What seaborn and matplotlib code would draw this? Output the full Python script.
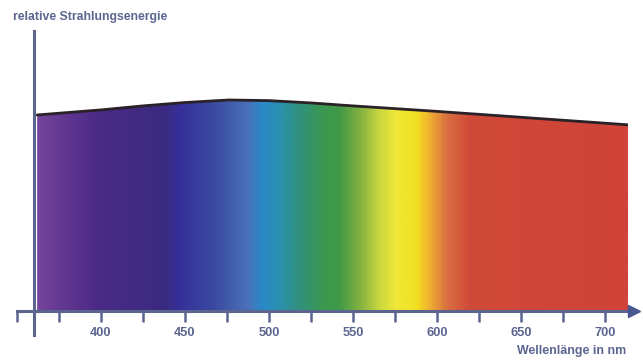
import numpy as np
import pandas as pd
import matplotlib
matplotlib.use("Agg")
import matplotlib.pyplot as plt
import seaborn as sns
from matplotlib.colors import LinearSegmentedColormap
from matplotlib.ticker import MultipleLocator
import matplotlib.transforms as mtransforms

# ------------------------------------------------------------------ #
# Data
# ------------------------------------------------------------------ #
wavelength = [362, 400, 425, 450, 476, 500, 525, 550, 600, 650, 700, 714]
energy = [0.929, 0.953, 0.972, 0.988, 1.0, 0.997, 0.986, 0.972, 0.946,
          0.918, 0.890, 0.882]

# colour stops of the spectrum band
stop_nm = [362, 380, 398, 437, 447, 467, 487, 496, 506, 517, 532, 542, 554,
           566, 576, 588, 596, 606, 620, 714]
stop_col = ["#74449a", "#5e3590", "#4a2a85", "#3a2a80", "#36309a", "#3a4aa0",
            "#4a70b8", "#2a88c8", "#2a90b0", "#309080", "#3a9850", "#409a48",
            "#80b040", "#c8d840", "#f0e838", "#f0e020", "#f0b030", "#d87040",
            "#d04a38", "#cf4338"]

major_ticks = [400, 450, 500, 550, 600, 650, 700]

title = "relative Strahlungsenergie"
xlabel = "Wellenlänge in nm"

axis_col = "#5b6590"

# ------------------------------------------------------------------ #
# Figure
# ------------------------------------------------------------------ #
sns.set_theme(style="white")
plt.rcParams["font.family"] = ["Liberation Sans", "DejaVu Sans"]

df = pd.DataFrame({"nm": wavelength, "E": energy})

fig = plt.figure(figsize=(6.43, 3.61), dpi=100)
ax = fig.add_axes([17 / 643, 26 / 361, 611 / 643, 304 / 361])

x_lo, x_hi = 350, 713.7
ax.set_xlim(x_lo, x_hi)
ax.set_ylim(-0.114, 1.327)

# spectrum band clipped by the curve
lo, hi = min(wavelength), max(wavelength)
pos = [(s - lo) / (hi - lo) for s in stop_nm]
cmap = LinearSegmentedColormap.from_list("spec", list(zip(pos, stop_col)))
grad = np.linspace(0, 1, 600).reshape(1, -1)
img = ax.imshow(grad, cmap=cmap, aspect="auto", extent=[lo, hi, 0, 1.1],
                interpolation="bilinear", zorder=1)
poly = ax.fill_between(df["nm"], 0, df["E"], color="none", lw=0)
img.set_clip_path(poly.get_paths()[0], transform=ax.transData)

sns.lineplot(data=df, x="nm", y="E", ax=ax, color="#2a2228", lw=2.0,
             zorder=3)

# axes styling
for s in ["top", "right"]:
    ax.spines[s].set_visible(False)
ax.spines["left"].set_position(("data", 360))
ax.spines["bottom"].set_position(("data", 0))
for s in ["left", "bottom"]:
    ax.spines[s].set_color(axis_col)
    ax.spines[s].set_linewidth(2.2)
    ax.spines[s].set_zorder(4)

ax.set_xticks(major_ticks)
ax.xaxis.set_minor_locator(MultipleLocator(25))
ax.set_yticks([])
ax.tick_params(axis="x", which="both", direction="out", length=8, width=1.8,
               color=axis_col, bottom=True, pad=3.5)
ax.tick_params(axis="x", which="major", labelsize=9.3, labelcolor=axis_col)
for lab in ax.get_xticklabels():
    lab.set_fontweight("bold")
ax.set_xlabel("")
ax.set_ylabel("")

# arrow head on the x axis
off = mtransforms.ScaledTranslation(6 / 100, 0, fig.dpi_scale_trans)
ax.plot(1, 0, marker=">", ms=9, color="#4a5890",
        transform=ax.get_yaxis_transform() + off, clip_on=False, zorder=5)

fig.text(13 / 643, 1 - 17 / 361, title, ha="left", va="center",
         fontsize=8.8, fontweight="bold", color=axis_col)
fig.text(626 / 643, 1 - 351 / 361, xlabel, ha="right", va="center",
         fontsize=8.9, fontweight="bold", color=axis_col)

fig.savefig("out.png", dpi=100)
